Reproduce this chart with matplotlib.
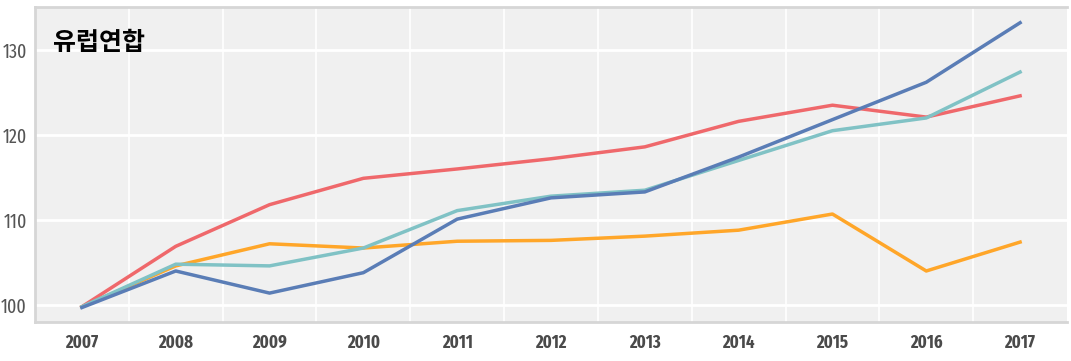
import matplotlib
matplotlib.use('Agg')
import matplotlib.pyplot as plt

years = [2007, 2008, 2009, 2010, 2011, 2012, 2013, 2014, 2015, 2016, 2017]
red = [99.8, 106.9, 111.8, 114.9, 116.0, 117.2, 118.6, 121.6, 123.5, 122.1, 124.6]
cyan = [99.8, 104.8, 104.6, 106.7, 111.1, 112.8, 113.5, 117.0, 120.5, 122.0, 127.4]
blue = [99.7, 104.0, 101.4, 103.8, 110.1, 112.6, 113.3, 117.4, 121.8, 126.2, 133.2]
orange = [99.8, 104.6, 107.2, 106.7, 107.5, 107.6, 108.1, 108.8, 110.7, 104.0, 107.4]
yticks = [100, 110, 120, 130]

narrow = ['Fira Sans Extra Condensed', 'Fira Sans Condensed', 'DejaVu Sans']

fig = plt.figure(figsize=(10.71, 3.61), dpi=100)
ax = fig.add_axes([35 / 1071, 39 / 361, 1032 / 1071, 315 / 361])
ax.set_facecolor('#f0f0f0')

ax.plot(years, orange, color='#ffa629', lw=2.5)
ax.plot(years, red, color='#ef686b', lw=2.5)
ax.plot(years, cyan, color='#80c2c5', lw=2.5)
ax.plot(years, blue, color='#5a7db6', lw=2.5)

ax.set_xlim(2006.5, 2017.5)
ax.set_ylim(98, 135.05)
ax.set_xticks(years)
ax.set_xticks([y + 0.5 for y in years[:-1]], minor=True)
ax.set_yticks(yticks)
ax.grid(which='minor', axis='x', color='white', lw=1.2)
ax.grid(which='major', axis='y', color='white', lw=2)
ax.set_axisbelow(True)
ax.tick_params(length=0, which='both')

for lab in ax.get_xticklabels():
    lab.set_fontfamily(narrow)
    lab.set_fontweight('bold')
    lab.set_fontsize(13)
    lab.set_color('#4a4a4a')
for lab in ax.get_yticklabels():
    lab.set_fontfamily(narrow)
    lab.set_fontsize(14)
    lab.set_color('#555555')
ax.tick_params(axis='x', pad=9)
ax.tick_params(axis='y', pad=6)

for s in ['top', 'bottom', 'left']:
    ax.spines[s].set_color('#d6d6d6')
    ax.spines[s].set_linewidth(2)
ax.spines['right'].set_visible(False)

ax.text(0.017, 0.885, '유럽연합', transform=ax.transAxes, fontsize=18,
        fontweight='bold', family=['Noto Sans CJK KR', 'DejaVu Sans'],
        color='black', va='center', ha='left')

fig.savefig('out.png', dpi=100)
